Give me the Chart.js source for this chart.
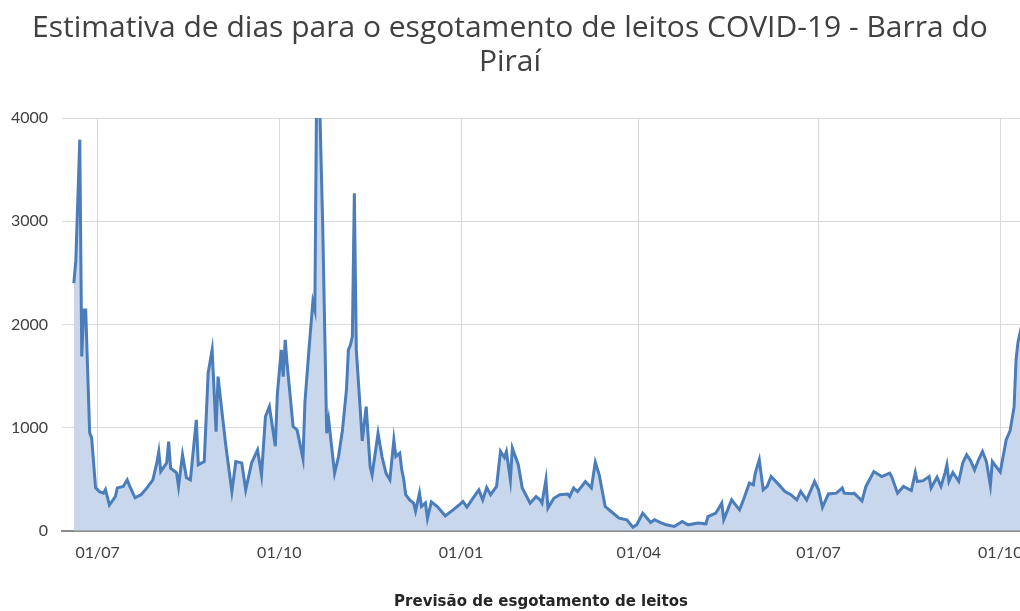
<!DOCTYPE html>
<html>
<head>
<meta charset="utf-8">
<script src="https://cdn.jsdelivr.net/npm/chart.js@4.4.1/dist/chart.umd.min.js"></script>
<style>
  html, body { margin: 0; padding: 0; background: #fff; }
  #wrap { width: 1020px; height: 611px; }
</style>
</head>
<body>
<div id="wrap"><canvas id="chart" width="1020" height="611"></canvas></div>
<script>
// Days counted from 01/07/2020
const days = [
  -12, -11, -9, -8, -7, -6, -4, -3, -1, 1, 3, 4, 6, 9, 10, 13, 15, 16, 19, 22,
  25, 28, 30, 31, 32, 35, 36, 37, 40, 41, 43, 45, 47, 50, 51, 54, 56, 58, 60, 61,
  63, 65, 68, 70, 73, 75, 78, 81, 83, 85, 87, 90, 91, 93, 94, 95, 96, 99, 101, 104,
  105, 107, 109, 110, 111, 112, 114, 116, 117, 120, 122, 124, 126, 127, 128, 129, 130, 131, 133, 134,
  136, 138, 139, 142, 144, 146, 148, 150, 151, 153, 154, 155, 156, 158, 160, 161, 163, 164, 166, 167,
  169, 172, 176, 180, 183, 185, 187, 190, 193, 195, 197, 199, 202, 204, 206, 207, 209, 210, 213, 215,
  219, 222, 224, 225, 227, 228, 231, 234, 238, 239, 241, 243, 247, 250, 252, 254, 257, 260, 264, 268,
  271, 273, 276, 280, 282, 285, 288, 292, 296, 299, 304, 308, 309, 313, 316, 317, 319, 321, 325, 327,
  330, 332, 333, 335, 337, 339, 341, 345, 348, 351, 354, 356, 359, 363, 365, 367, 370, 374, 377, 378,
  382, 383, 387, 389, 393, 397, 401, 402, 405, 408, 412, 414, 415, 418, 421, 422, 425, 427, 429, 430,
  431, 433, 436, 438, 440, 442, 444, 446, 448, 450, 452, 453, 455, 457, 460, 462, 464, 465, 466, 468
];

const values = [
  2400, 2620, 3790, 1690, 2140, 2140, 950, 900, 416, 380, 365, 400, 250, 332, 416, 430, 494, 445, 320, 350,
  416, 494, 658, 768, 574, 658, 865, 607, 562, 430, 736, 513, 494, 1075, 639, 671, 1530, 1753, 960, 1494,
  1150, 816, 380, 670, 658, 397, 658, 784, 540, 1107, 1204, 820, 1320, 1753, 1494, 1850, 1610, 1010, 978, 700,
  1250, 1750, 2220, 2140, 4500, 4500, 2947, 946, 1075, 559, 720, 978, 1366, 1753, 1800, 1882, 3270, 1753, 1172, 870,
  1204, 620, 540, 946, 720, 559, 494, 881, 720, 752, 591, 500, 350, 300, 268, 190, 365, 235, 270, 120,
  280, 235, 145, 203, 250, 284, 230, 315, 397, 300, 420, 350, 430, 770, 710, 768, 494, 801, 640, 415,
  268, 332, 300, 268, 494, 220, 315, 350, 357, 332, 414, 380, 478, 415, 665, 540, 235, 187, 123, 107,
  35, 60, 171, 80, 107, 80, 58, 42, 90, 58, 75, 68, 138, 171, 268, 107, 203, 300, 203, 300,
  462, 445, 559, 688, 397, 430, 526, 445, 381, 350, 300, 381, 300, 478, 397, 228, 357, 365, 414, 365,
  360, 365, 290, 430, 574, 526, 559, 526, 365, 430, 390, 565, 478, 486, 526, 414, 520, 430, 559, 639,
  478, 565, 480, 656, 736, 680, 590, 688, 768, 670, 440, 671, 620, 570, 881, 970, 1200, 1656, 1830, 2000
];

const tickDays = [0, 92, 184, 274, 365, 457];
const tickLabels = ['01/07', '01/10', '01/01', '01/04', '01/07', '01/10'];
const yTicks = [0, 1000, 2000, 3000, 4000];

const points = days.map((d, i) => ({ x: d, y: values[i] }));

const font = 'Lato';

new Chart(document.getElementById('chart').getContext('2d'), {
  type: 'line',
  data: {
    datasets: [{
      label: 'Previsão de esgotamento de leitos',
      data: points,
      borderColor: '#4a7dba',
      backgroundColor: '#c8d7ec',
      borderWidth: 3,
      pointRadius: 0,
      tension: 0,
      fill: 'origin',
      clip: 0
    }]
  },
  options: {
    responsive: false,
    animation: false,
    layout: { padding: { left: 0, right: 0, top: 0, bottom: 0 } },
    plugins: {
      legend: { display: false },
      tooltip: { enabled: false },
      title: {
        display: true,
        text: ['Estimativa de dias para o esgotamento de leitos COVID-19 - Barra do', 'Piraí'],
        color: '#404040',
        font: { family: 'Open Sans', size: 30, weight: 'normal', lineHeight: 1.15 },
        padding: { top: 11, bottom: 38 }
      }
    },
    scales: {
      x: {
        type: 'linear',
        min: -18,
        max: 467,
        afterBuildTicks: scale => {
          scale.ticks = tickDays.map(v => ({ value: v }));
        },
        afterFit: scale => {
          scale.paddingLeft = 0;
          scale.paddingRight = 0;
        },
        ticks: {
          autoSkip: false,
          maxRotation: 0,
          padding: 12,
          color: '#404040',
          font: { family: font, size: 16 },
          callback: (value, index) => tickLabels[index]
        },
        grid: { color: '#d9d9d9', lineWidth: 1, drawTicks: false },
        border: { display: true, color: '#8c8c8c', width: 2 },
        title: {
          display: true,
          text: 'Previsão de esgotamento de leitos',
          color: '#262626',
          font: { family: 'DejaVu Sans', size: 15, weight: 'bold' },
          padding: { top: 19, bottom: 0 }
        }
      },
      y: {
        min: 0,
        max: 4000,
        afterBuildTicks: scale => {
          scale.ticks = yTicks.map(v => ({ value: v }));
        },
        afterFit: scale => {
          scale.width = 62;
        },
        ticks: {
          padding: 14,
          color: '#404040',
          font: { family: font, size: 16 },
          callback: value => String(value)
        },
        grid: { color: '#d9d9d9', lineWidth: 1, drawTicks: false },
        border: { display: false }
      }
    }
  }
});
</script>
</body>
</html>
